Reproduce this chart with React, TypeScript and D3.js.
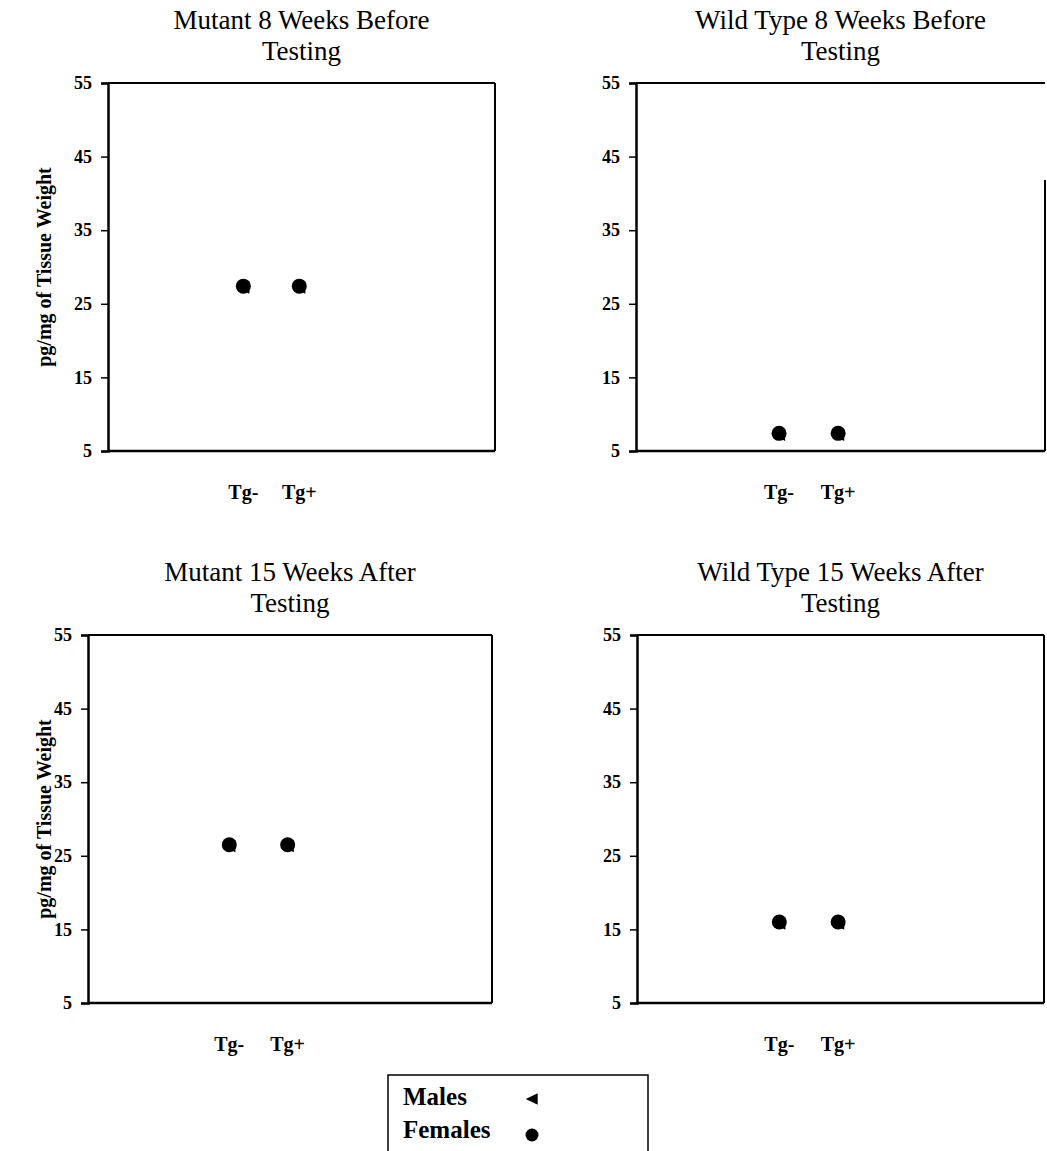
import React, { useEffect, useRef } from 'react';
import * as d3 from 'd3';

// chart data
const panelTitles = [
  ['Mutant 8 Weeks Before', 'Testing'],
  ['Wild Type 8 Weeks Before', 'Testing'],
  ['Mutant 15 Weeks After', 'Testing'],
  ['Wild Type 15 Weeks After', 'Testing'],
];
const groups = ['Tg-', 'Tg+'];
const femaleValues = [
  [27.4, 27.4],
  [7.4, 7.4],
  [26.5, 26.5],
  [16.0, 16.0],
];
const maleValues = [
  [27.2, 27.2],
  [7.2, 7.2],
  [26.3, 26.3],
  [15.8, 15.8],
];
const yTicks = [5, 15, 25, 35, 45, 55];
const yLabel = 'pg/mg of Tissue Weight';
const legendItems = ['Males', 'Females'];

// layout of the four plot boxes
const boxes = [
  { x0: 108, x1: 495, y0: 83, y1: 451, showLabel: true },
  { x0: 636, x1: 1045, y0: 83, y1: 451, showLabel: false },
  { x0: 88, x1: 492, y0: 635, y1: 1003, showLabel: true },
  { x0: 637, x1: 1044, y0: 635, y1: 1003, showLabel: false },
];

const W = 1047;
const H = 1151;
const serif = '"Liberation Serif", "Times New Roman", serif';

const App = () => {
  const svgRef = useRef(null);

  useEffect(() => {
    const svg = d3.select(svgRef.current);
    svg.selectAll('*').remove();

    const triangle = d3.symbol().type({
      draw(ctx, size) {
        const s = Math.sqrt(size) / 2;
        ctx.moveTo(-s * 1.1, 0);
        ctx.lineTo(s, -s);
        ctx.lineTo(s, s);
        ctx.closePath();
      },
    });

    boxes.forEach((b, i) => {
      const g = svg.append('g');

      const y = d3.scaleLinear().domain([5, 55]).range([b.y1, b.y0]);
      const x = d3.scaleLinear().domain([-2.42, 4.5]).range([b.x0, b.x1]);

      // titles
      g.append('text')
        .attr('x', (b.x0 + b.x1) / 2)
        .attr('y', b.y0 - 54)
        .attr('text-anchor', 'middle')
        .style('font-family', serif)
        .style('font-size', '27px')
        .text(panelTitles[i][0]);
      g.append('text')
        .attr('x', (b.x0 + b.x1) / 2)
        .attr('y', b.y0 - 23)
        .attr('text-anchor', 'middle')
        .style('font-family', serif)
        .style('font-size', '27px')
        .text(panelTitles[i][1]);

      // box
      g.append('line')
        .attr('x1', b.x0).attr('x2', b.x1)
        .attr('y1', b.y0).attr('y2', b.y0)
        .attr('stroke', '#000').attr('stroke-width', 2);
      g.append('line')
        .attr('x1', b.x0).attr('x2', b.x1)
        .attr('y1', b.y1).attr('y2', b.y1)
        .attr('stroke', '#000').attr('stroke-width', 2.5);
      g.append('line')
        .attr('x1', b.x1).attr('x2', b.x1)
        .attr('y1', i === 1 ? 180 : b.y0).attr('y2', b.y1)
        .attr('stroke', '#000').attr('stroke-width', 2);

      // y axis
      const axis = g.append('g')
        .attr('transform', `translate(${b.x0},0)`)
        .call(d3.axisLeft(y).tickValues(yTicks).tickSize(7).tickPadding(9));
      axis.select('.domain').attr('stroke-width', 2.5);
      axis.selectAll('.tick line').attr('stroke-width', 1.5);
      axis.selectAll('.tick text')
        .style('font-family', serif)
        .style('font-size', '18px')
        .style('font-weight', 'bold')
        .attr('fill', '#000');

      if (b.showLabel) {
        g.append('text')
          .attr('transform', `translate(51,${(b.y0 + b.y1) / 2}) rotate(-90)`)
          .attr('text-anchor', 'middle')
          .style('font-family', serif)
          .style('font-size', '20px')
          .style('font-weight', 'bold')
          .text(yLabel);
      }

      // category labels
      g.selectAll('.cat')
        .data(groups)
        .join('text')
        .attr('x', (d, j) => x(j))
        .attr('y', b.y1 + 48)
        .attr('text-anchor', 'middle')
        .style('font-family', serif)
        .style('font-size', '20px')
        .style('font-weight', 'bold')
        .text(d => d);

      // males (triangles) behind females (circles)
      g.selectAll('.male')
        .data(maleValues[i])
        .join('path')
        .attr('d', triangle.size(150))
        .attr('transform', (d, j) => `translate(${x(j)},${y(d)})`)
        .attr('fill', '#000');
      g.selectAll('.female')
        .data(femaleValues[i])
        .join('circle')
        .attr('cx', (d, j) => x(j))
        .attr('cy', d => y(d))
        .attr('r', 7.5)
        .attr('fill', '#000');
    });

    // legend
    const lg = svg.append('g');
    lg.append('rect')
      .attr('x', 388).attr('y', 1075)
      .attr('width', 260).attr('height', 100)
      .attr('fill', 'none').attr('stroke', '#000').attr('stroke-width', 1.5);
    const ly = d3.scalePoint().domain(legendItems).range([1105, 1138]);
    lg.selectAll('.ltext')
      .data(legendItems)
      .join('text')
      .attr('x', 403)
      .attr('y', d => ly(d))
      .style('font-family', serif)
      .style('font-size', '25px')
      .style('font-weight', 'bold')
      .text(d => d);
    lg.append('path')
      .attr('d', triangle.size(130))
      .attr('transform', `translate(532,${ly('Males') - 6})`)
      .attr('fill', '#000');
    lg.append('circle')
      .attr('cx', 532).attr('cy', ly('Females') - 3)
      .attr('r', 6.5)
      .attr('fill', '#000');
  }, []);

  return (
    <svg
      ref={svgRef}
      width={W}
      height={H}
      style={{ position: 'absolute', left: 0, top: 0, background: '#fff' }}
    />
  );
};

export default App;
